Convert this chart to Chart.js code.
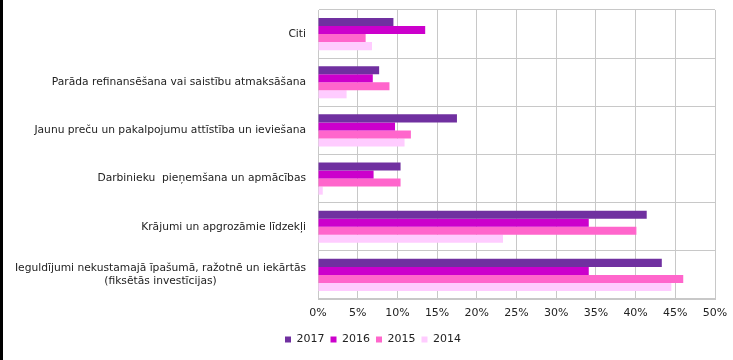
<!DOCTYPE html>
<html>
<head>
<meta charset="utf-8">
<script src="https://cdn.jsdelivr.net/npm/chart.js@4/dist/chart.umd.min.js"></script>
<style>
html,body{margin:0;padding:0;background:#fff;}
#wrap{position:relative;width:733px;height:360px;}
#edge{position:absolute;left:0;top:0;width:3px;height:360px;background:#000;}
</style>
</head>
<body>
<div id="wrap"><canvas id="c" width="733" height="360"></canvas><div id="edge"></div></div>
<script>
const categories = [
  "Citi",
  "Parāda refinansēšana vai saistību atmaksāšana",
  "Jaunu preču un pakalpojumu attīstība un ieviešana",
  "Darbinieku  pieņemšana un apmācības",
  "Krājumi un apgrozāmie līdzekļi",
  ["Ieguldījumi nekustamajā īpašumā, ražotnē un iekārtās", "(fiksētās investīcijas)"]
];
const seriesNames = ["2017", "2016", "2015", "2014"];
const v2017 = [9.5, 7.7, 17.5, 10.4, 41.4, 43.3];
const v2016 = [13.5, 6.9, 9.7, 7.0, 34.1, 34.1];
const v2015 = [6.0, 9.0, 11.7, 10.4, 40.1, 46.0];
const v2014 = [6.8, 3.6, 10.9, 0.6, 23.3, 44.5];
const xTicks = [0, 5, 10, 15, 20, 25, 30, 35, 40, 45, 50];

const colors = ["#7030A0", "#CC00CC", "#FF66CC", "#FFCCFF"];
const FONT = "DejaVu Sans";
Chart.defaults.font.family = FONT;
Chart.defaults.font.size = 11;
Chart.defaults.color = "#222";

const labelPlugin = {
  id: "ylabels",
  afterDraw(chart) {
    const ctx = chart.ctx;
    const y = chart.scales.y;
    const right = chart.chartArea.left - 12;
    ctx.save();
    ctx.font = "10.7px '" + FONT + "'";
    ctx.fillStyle = "#222";
    ctx.textAlign = "center";
    ctx.textBaseline = "middle";
    const lh = 13;
    categories.forEach((lab, i) => {
      const lines = Array.isArray(lab) ? lab : [lab];
      const w = Math.max(...lines.map(l => ctx.measureText(l).width));
      const cx = right - w / 2;
      const cy = y.getPixelForValue(i);
      const y0 = cy - (lines.length - 1) * lh / 2;
      lines.forEach((l, k) => ctx.fillText(l, cx, y0 + k * lh));
    });
    ctx.restore();
  }
};

const vals = [v2017, v2016, v2015, v2014];
new Chart(document.getElementById("c"), {
  type: "bar",
  data: {
    labels: categories,
    datasets: seriesNames.map((n, i) => ({
      label: n,
      data: vals[i],
      backgroundColor: colors[i],
      borderWidth: 0,
      categoryPercentage: 0.667,
      barPercentage: 1.0
    }))
  },
  options: {
    indexAxis: "y",
    responsive: false,
    animation: false,
    layout: { padding: { left: 31, top: 10, right: 18, bottom: 5 } },
    plugins: {
      tooltip: { enabled: false },
      legend: {
        position: "bottom",
        labels: { boxWidth: 6, boxHeight: 6, padding: 6, color: "#222", font: { size: 11 } }
      }
    },
    scales: {
      x: {
        min: 0, max: 50,
        afterBuildTicks(s) { s.ticks = xTicks.map(v => ({ value: v })); },
        ticks: { padding: 8, callback: v => v + "%", color: "#222" },
        grid: { color: "#C8C8C8", drawTicks: false },
        border: { color: "#C8C8C8" },
        afterFit(s) { s.height = 29; s.paddingLeft = 0; s.paddingRight = 0; }
      },
      y: {
        ticks: { display: false },
        grid: { color: "#C8C8C8", drawTicks: false, offset: true },
        border: { color: "#C8C8C8" },
        afterFit(s) { s.width = 287; s.paddingTop = 0; s.paddingBottom = 0; }
      }
    }
  },
  plugins: [labelPlugin]
});
</script>
</body>
</html>
